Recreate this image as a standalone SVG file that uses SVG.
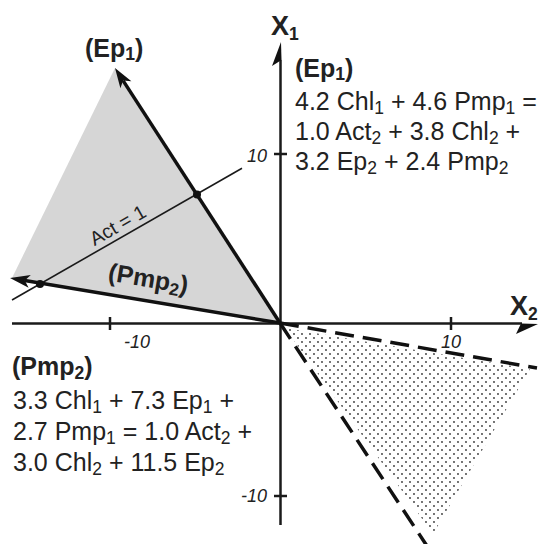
<svg xmlns="http://www.w3.org/2000/svg" width="539" height="544" viewBox="0 0 539 544">
<style>
.t{font-family:"Liberation Sans",Arial,sans-serif;font-size:25px;fill:#222}
.s{font-size:17.5px}
.b{font-weight:bold}
.tick{font-family:"Liberation Sans",Arial,sans-serif;font-size:18px;font-style:italic;fill:#222}
.act{font-family:"Liberation Sans",Arial,sans-serif;font-size:19.5px;fill:#222}
.ax{stroke:#1a1a1a;stroke-width:2.5;fill:none}
.thick{stroke:#111;stroke-width:3.5;fill:none}
.dash{stroke:#111;stroke-width:3.5;fill:none;stroke-dasharray:19 9}
.head{fill:#111}
</style>
<defs>
<pattern id="dots" width="8" height="8" patternUnits="userSpaceOnUse">
<circle cx="2" cy="2" r="0.9" fill="#333"/>
<circle cx="6" cy="6" r="0.9" fill="#333"/>
</pattern>
</defs>
<rect width="539" height="544" fill="#fff"/>
<g id="regions">
<polygon points="280,323 115,68 12,278" fill="#d6d6d6"/>
<polygon points="285,328 530,369 433,534" fill="url(#dots)"/>
</g>
<g id="axes">
<line class="ax" x1="12" y1="323.5" x2="522" y2="323.5"/>
<polygon class="head" points="538,324 516,334 521,323.5"/>
<line class="ax" x1="280.5" y1="525" x2="280.5" y2="60"/>
<polygon class="head" points="281,42 272,66 281.5,60"/>
<line class="ax" x1="110" y1="317" x2="110" y2="330"/>
<line class="ax" x1="451" y1="317" x2="451" y2="330"/>
<line class="ax" x1="274" y1="154" x2="287" y2="154"/>
<line class="ax" x1="274" y1="496" x2="287" y2="496"/>
<text class="tick" x="124" y="348">-10</text>
<text class="tick" x="451" y="348" text-anchor="middle">10</text>
<text class="tick" x="267" y="162" text-anchor="end">10</text>
<text class="tick" x="267" y="502" text-anchor="end">-10</text>
<text class="t b" x="271" y="35" style="font-size:27px">X<tspan class="s" dy="5">1</tspan></text>
<text class="t b" x="510" y="315" style="font-size:27px">X<tspan class="s" dy="5">2</tspan></text>
</g>
<g id="connectors">
<line class="ax" x1="12" y1="300" x2="242" y2="168.2" style="stroke-width:1.6"/>
<line class="thick" x1="280" y1="323" x2="123.1" y2="80.6"/>
<polygon class="head" points="115,68 131.4,81.3 123.1,80.6 120.4,88.3"/>
<line class="thick" x1="280" y1="323" x2="24.8" y2="280.5"/>
<polygon class="head" points="10,278 30.8,274.9 24.8,280.5 28.6,287.7"/>
<line class="dash" x1="280" y1="323" x2="537" y2="368"/>
<line class="dash" x1="280" y1="323" x2="427" y2="546"/>
<circle cx="197" cy="194.5" r="4" fill="#111"/>
<circle cx="40" cy="284" r="4" fill="#111"/>
</g>
<g id="ep1-label">
<text class="t b" x="85" y="57">(Ep<tspan class="s" dy="3">1</tspan><tspan dy="-3">)</tspan></text>
</g>
<g id="pmp2-label">
<text class="t b" x="147" y="287" text-anchor="middle" transform="rotate(9.5 147 287)">(Pmp<tspan class="s" dy="4">2</tspan><tspan dy="-4">)</tspan></text>
</g>
<g id="act-label">
<text class="act" x="121" y="231" text-anchor="middle" transform="rotate(-29.8 121 231)">Act = 1</text>
</g>
<g id="ep1-equation">
<text class="t b" x="295" y="77">(Ep<tspan class="s" dy="3">1</tspan><tspan dy="-3">)</tspan></text>
<text class="t" x="295" y="110">4.2 Chl<tspan class="s" dy="3.5">1</tspan><tspan dy="-3.5"> + 4.6 Pmp</tspan><tspan class="s" dy="3.5">1</tspan><tspan dy="-3.5"> =</tspan></text>
<text class="t" x="295" y="140">1.0 Act<tspan class="s" dy="3.5">2</tspan><tspan dy="-3.5"> + 3.8 Chl</tspan><tspan class="s" dy="3.5">2</tspan><tspan dy="-3.5"> +</tspan></text>
<text class="t" x="295" y="170">3.2 Ep<tspan class="s" dy="3.5">2</tspan><tspan dy="-3.5"> + 2.4 Pmp</tspan><tspan class="s" dy="3.5">2</tspan></text>
</g>
<g id="pmp2-equation">
<text class="t b" x="12" y="375">(Pmp<tspan class="s" dy="4">2</tspan><tspan dy="-4">)</tspan></text>
<text class="t" x="13" y="409">3.3 Chl<tspan class="s" dy="3.5">1</tspan><tspan dy="-3.5"> + 7.3 Ep</tspan><tspan class="s" dy="3.5">1</tspan><tspan dy="-3.5"> +</tspan></text>
<text class="t" x="13" y="440">2.7 Pmp<tspan class="s" dy="3.5">1</tspan><tspan dy="-3.5"> = 1.0 Act</tspan><tspan class="s" dy="3.5">2</tspan><tspan dy="-3.5"> +</tspan></text>
<text class="t" x="13" y="471">3.0 Chl<tspan class="s" dy="3.5">2</tspan><tspan dy="-3.5"> + 11.5 Ep</tspan><tspan class="s" dy="3.5">2</tspan></text>
</g>
</svg>
